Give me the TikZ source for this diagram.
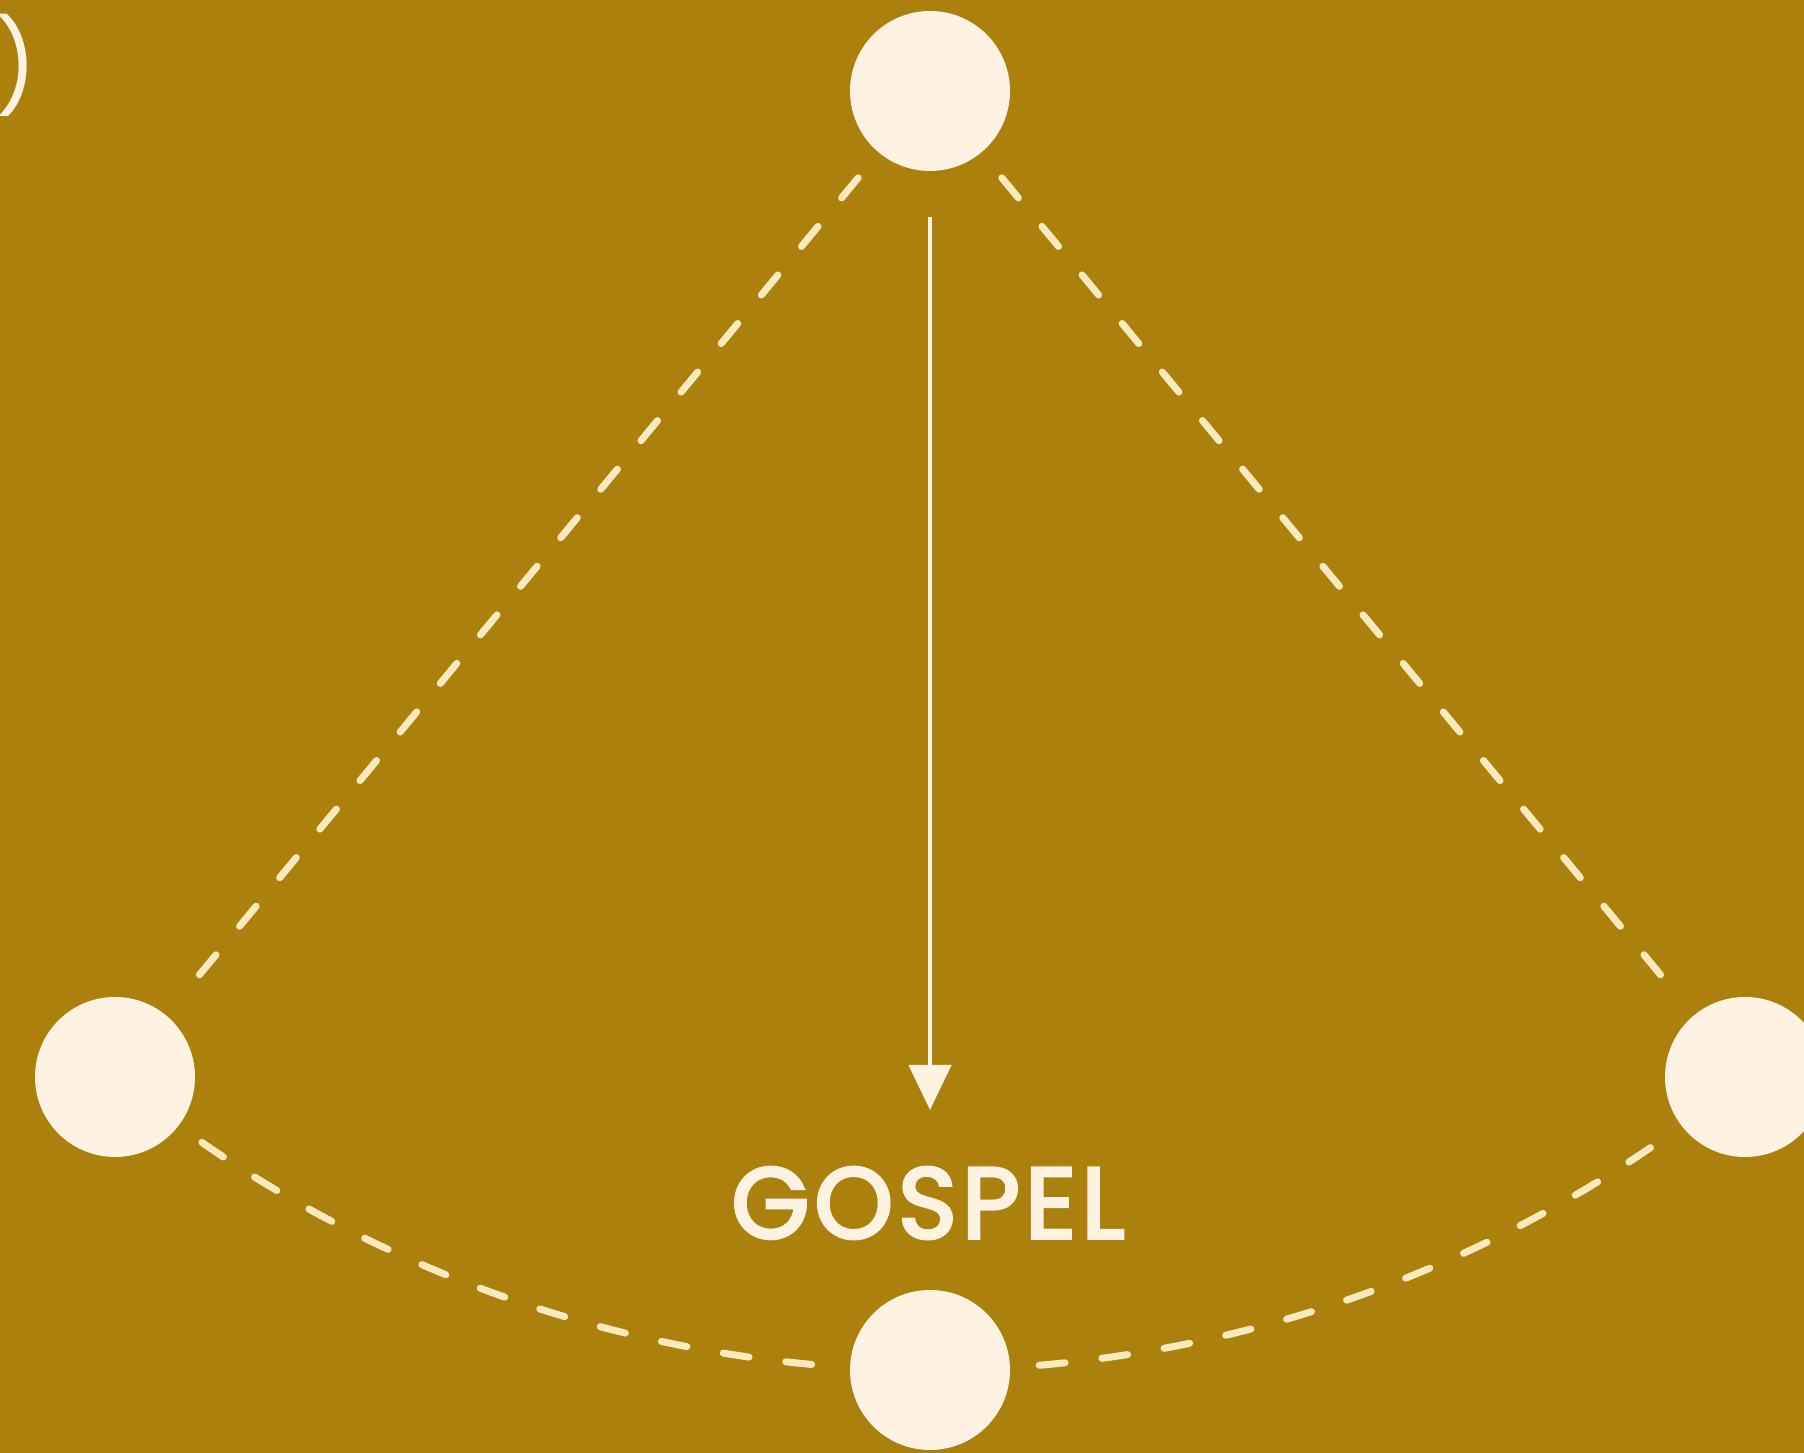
\documentclass[tikz,border=0pt]{standalone}
\usepackage{fontspec}
\setmainfont{Poppins}
\usetikzlibrary{
    arrows.meta,
    positioning,
    calc,
}
\definecolor{ochre}{RGB}{171,128,13}
\definecolor{cream}{RGB}{254,243,226}
\definecolor{dashcream}{RGB}{249,234,190}

\begin{document}
\begin{tikzpicture}[
        dot/.style={circle, fill=cream, inner sep=0pt, minimum size=1.6cm},
        dashline/.style={draw=dashcream, line width=2pt, line cap=round, dash pattern=on 0.26cm off 0.37cm},
        pointer/.style={draw=cream, line width=1.3pt, -{Triangle[width=0.42cm, length=0.45cm]}},
        caption/.style={text=cream, font=\fontsize{28.5}{30}\selectfont\addfontfeatures{FakeBold=3.5, LetterSpace=5}},
        corner/.style={text=cream, font=\fontsize{26}{28}\selectfont},
    ]
        \clip (0,0) rectangle (18.04,14.53);
        \fill[ochre] (0,0) rectangle (18.04,14.53);

        % the four dots
        \node[dot] (top) at (9.30,13.62) {};
        \node[dot] (left) at (1.15,3.76) {};
        \node[dot] (right) at (17.45,3.76) {};
        \node[dot] (bottom) at (9.30,0.83) {};

        % sides of the triangle
        \draw[dashline, shorten <=0.32cm, shorten >=0.32cm] (top) -- (left);
        \draw[dashline, shorten <=0.32cm, shorten >=0.32cm] (top) -- (right);

        % swing of the pendulum
        \draw[dashline] (top.center) ++(235.3:12.79) arc[start angle=235.3, end angle=265.1, radius=12.79];
        \draw[dashline] (top.center) ++(274.9:12.79) arc[start angle=274.9, end angle=304.7, radius=12.79];

        % arrow down to the label
        \coordinate (tip) at (9.30,3.43);
        \draw[pointer, shorten <=0.45cm] (top) -- (tip);
        \node[caption] (gospel) at (9.28,2.50) {GOSPEL};

        % cut-off bracket in the corner
        \node[corner, anchor=east, inner sep=0pt] (bracket) at (0.38,13.88) {)};
    \end{tikzpicture}
\end{document}
